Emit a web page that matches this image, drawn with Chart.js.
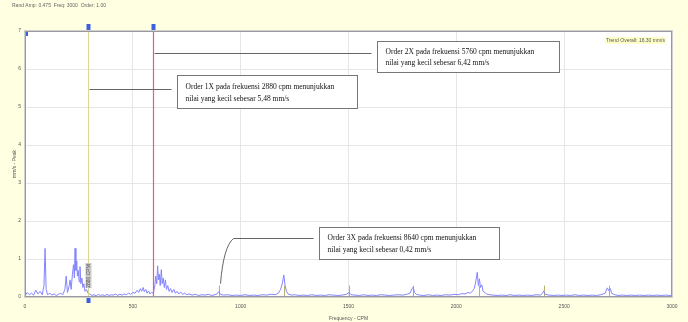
<!DOCTYPE html>
<html>
<head>
<meta charset="utf-8">
<script src="https://cdn.jsdelivr.net/npm/chart.js@4/dist/chart.umd.min.js"></script>
<style>
html,body{margin:0;padding:0;background:#ffffe0;}
#wrap{width:688px;height:322px;position:relative;}
</style>
</head>
<body>
<div id="wrap"><canvas id="c" width="688" height="322"></canvas></div>
<script>
// ---- data ----
const headerText = "Rand Amp: 0.475  Freq: 3000  Order: 1.00";
const overallText = "Trend Overall: 16.30 mm/s";
const xTickValues = [0, 500, 1000, 1500, 2000, 2500, 3000];
const yTickValues = [0, 1, 2, 3, 4, 5, 6, 7];
const xTitle = "Frequency - CPM";
const yTitle = "mm/s - Peak";

const spectrumFreq = [0,10,20,30,40,50,60,70,80,88,93,98,105,115,125,135,145,155,165,175,185,191,197,205,209,214,220,225,229,232,236,240,243,247,251,255,259,264,268,273,278,285,292,300,310,320,330,340,350,360,370,380,390,400,410,420,430,440,450,460,470,480,490,500,510,520,527,535,541,548,553,560,566,573,580,587,595,602,606,611,615,619,623,627,632,636,641,646,651,656,662,668,675,682,690,697,705,713,722,731,740,750,760,775,790,805,820,835,850,865,880,890,898,906,920,940,960,980,1000,1020,1040,1060,1080,1100,1120,1140,1160,1175,1185,1193,1200,1206,1212,1220,1235,1250,1270,1290,1310,1330,1350,1370,1390,1410,1430,1450,1470,1490,1502,1512,1530,1550,1570,1590,1610,1630,1650,1670,1690,1710,1730,1750,1770,1785,1795,1800,1806,1815,1830,1850,1870,1890,1910,1930,1950,1970,1990,2010,2025,2040,2055,2065,2075,2083,2090,2097,2102,2107,2112,2118,2124,2132,2140,2155,2170,2190,2210,2230,2250,2270,2290,2310,2330,2350,2370,2390,2400,2405,2412,2430,2450,2470,2490,2510,2530,2550,2570,2590,2610,2630,2650,2670,2690,2700,2707,2714,2720,2735,2750,2770,2790,2810,2830,2850,2870,2890,2910,2930,2950,2970,2990,3000];
const spectrumAmp = [0.02,0.12,0.06,0.1,0.05,0.18,0.08,0.15,0.06,0.3,1.28,0.2,0.06,0.1,0.05,0.08,0.04,0.07,0.1,0.06,0.2,0.55,0.12,0.3,0.45,0.2,0.6,0.85,0.5,1.28,0.7,0.95,0.55,0.7,0.4,0.8,0.35,0.5,0.25,0.35,0.15,0.2,0.1,0.08,0.04,0.06,0.03,0.07,0.04,0.06,0.03,0.07,0.04,0.06,0.05,0.08,0.04,0.07,0.05,0.08,0.06,0.1,0.07,0.12,0.1,0.18,0.12,0.22,0.15,0.25,0.14,0.2,0.1,0.16,0.08,0.12,0.1,0.3,0.55,0.35,0.82,0.45,0.6,0.3,0.72,0.35,0.5,0.25,0.45,0.2,0.3,0.15,0.22,0.12,0.2,0.1,0.15,0.08,0.13,0.07,0.1,0.06,0.08,0.05,0.07,0.04,0.06,0.05,0.07,0.04,0.06,0.08,0.14,0.07,0.05,0.06,0.04,0.05,0.04,0.06,0.04,0.05,0.04,0.06,0.05,0.07,0.06,0.1,0.2,0.35,0.58,0.3,0.15,0.08,0.05,0.06,0.04,0.05,0.04,0.06,0.04,0.05,0.04,0.06,0.05,0.04,0.05,0.07,0.12,0.06,0.05,0.04,0.06,0.04,0.05,0.04,0.06,0.05,0.04,0.05,0.06,0.05,0.07,0.1,0.22,0.26,0.12,0.07,0.05,0.04,0.06,0.04,0.05,0.04,0.06,0.05,0.07,0.06,0.09,0.08,0.12,0.1,0.16,0.22,0.4,0.65,0.3,0.48,0.25,0.32,0.15,0.12,0.08,0.06,0.05,0.04,0.05,0.04,0.06,0.04,0.05,0.04,0.05,0.04,0.06,0.05,0.1,0.16,0.07,0.05,0.04,0.05,0.04,0.05,0.04,0.06,0.04,0.05,0.04,0.05,0.04,0.06,0.1,0.24,0.17,0.22,0.1,0.06,0.04,0.05,0.04,0.05,0.04,0.05,0.04,0.05,0.04,0.05,0.04,0.05,0.04,0.03];

// order cursors (frequency on the axis)
const orderFreq = [293, 595, 898, 1200, 1502, 1800, 2105, 2405, 2707];
const cursorLabel = "2880 CPM";

// annotations: text + value the leader points at
const annoText = [
  ["Order 2X pada frekuensi 5760 cpm menunjukkan", "nilai yang kecil sebesar 6,42 mm/s"],
  ["Order 1X pada frekuensi 2880 cpm menunjukkan", "nilai yang kecil sebesar 5,48 mm/s"],
  ["Order 3X pada frekuensi 8640 cpm menunjukkan", "nilai yang kecil sebesar 0,42 mm/s"]
];
const annoLeaderValue = [6.42, 5.48, 1.55];

const points = spectrumFreq.map((f, i) => ({x: f, y: spectrumAmp[i]}));

// ---- drawing helpers (placement config) ----
const annoPlace = [
  {order: 1, boxX: 1632, boxTop: 6.74, boxW: 182, boxH: 31},
  {order: 0, boxX: 707,  boxTop: 5.84, boxW: 180, boxH: 33},
  {order: 2, boxX: 1363, boxTop: 1.83, boxW: 180, boxH: 32}
];

function marker(ctx, x, y) {
  ctx.fillStyle = '#3f5fe0';
  ctx.fillRect(x - 2, y - 3, 4, 6);
}

const decor = {
  id: 'decor',
  beforeDraw(chart) {
    const {ctx, chartArea: a} = chart;
    ctx.save();
    ctx.fillStyle = '#ffffe2';
    ctx.fillRect(0, 0, chart.width, chart.height);
    ctx.fillStyle = '#ffffff';
    ctx.fillRect(a.left, a.top, a.right - a.left, a.bottom - a.top);
    ctx.fillStyle = '#666';
    ctx.font = '5px "Liberation Sans"';
    ctx.textBaseline = 'middle';
    ctx.fillText(headerText, 12, 6);
    ctx.restore();
  },
  beforeDatasetsDraw(chart) {
    const {ctx, scales: {x, y}} = chart;
    ctx.save();
    ctx.strokeStyle = '#b8b070';
    ctx.lineWidth = 1;
    for (let i = 2; i < orderFreq.length; i++) {
      const px = Math.round(x.getPixelForValue(orderFreq[i])) + 0.5;
      ctx.beginPath();
      ctx.moveTo(px, y.getPixelForValue(0));
      ctx.lineTo(px, y.getPixelForValue(0.3));
      ctx.stroke();
    }
    ctx.restore();
  },
  afterDatasetsDraw(chart) {
    const {ctx, chartArea: a, scales: {x, y}} = chart;
    ctx.save();
    const x1 = Math.round(x.getPixelForValue(orderFreq[0])) + 0.5;
    const x2 = Math.round(x.getPixelForValue(orderFreq[1])) + 0.5;
    ctx.lineWidth = 1;
    ctx.strokeStyle = '#d8d890';
    ctx.beginPath(); ctx.moveTo(x1, a.top - 4); ctx.lineTo(x1, a.bottom + 2); ctx.stroke();
    ctx.strokeStyle = '#ee5a78';
    ctx.lineWidth = 1.2;
    ctx.beginPath(); ctx.moveTo(x2, a.top - 4); ctx.lineTo(x2, a.bottom); ctx.stroke();
    ctx.lineWidth = 1;
    // cursor label box
    ctx.fillStyle = '#c9c9c9';
    ctx.fillRect(x1 - 3, a.bottom - 34, 6, 25);
    ctx.save();
    ctx.translate(x1 + 0.5, a.bottom - 21);
    ctx.rotate(-Math.PI / 2);
    ctx.fillStyle = '#555';
    ctx.font = '5px "Liberation Sans"';
    ctx.textAlign = 'center';
    ctx.textBaseline = 'middle';
    ctx.fillText(cursorLabel, 0, 0);
    ctx.restore();
    marker(ctx, x1, a.top - 4);
    marker(ctx, x2, a.top - 4);
    marker(ctx, x1, a.bottom + 3);
    marker(ctx, a.left + 1, a.top + 2);

    ctx.font = '7.5px "Liberation Serif"';
    annoPlace.forEach((p, i) => {
      const bx = Math.round(x.getPixelForValue(p.boxX)) + 0.5;
      const by = Math.round(y.getPixelForValue(p.boxTop)) + 0.5;
      const ly = Math.round(y.getPixelForValue(annoLeaderValue[i])) + 0.5;
      const lx = Math.round(x.getPixelForValue(orderFreq[p.order])) + 0.5;
      ctx.strokeStyle = '#666';
      ctx.lineWidth = 1;
      ctx.beginPath();
      if (p.order === 2) {
        const tipY = y.getPixelForValue(0.35);
        ctx.moveTo(bx - 6, ly);
        ctx.lineTo(lx + 14, ly);
        ctx.quadraticCurveTo(lx + 4, ly + 8, lx + 1, tipY);
      } else {
        ctx.moveTo(lx + 1, ly);
        ctx.lineTo(bx - 6, ly);
      }
      ctx.stroke();
      ctx.fillStyle = '#fff';
      ctx.fillRect(bx, by, p.boxW, p.boxH);
      ctx.strokeStyle = '#777';
      ctx.strokeRect(bx, by, p.boxW, p.boxH);
      ctx.fillStyle = '#111';
      ctx.textBaseline = 'middle';
      ctx.fillText(annoText[i][0], bx + 8, by + p.boxH * 0.34);
      ctx.fillText(annoText[i][1], bx + 8, by + p.boxH * 0.70);
    });

    ctx.font = '5px "Liberation Sans"';
    const tw = ctx.measureText(overallText).width;
    ctx.fillStyle = '#ffffc8';
    ctx.fillRect(a.right - 7 - tw - 1, a.top + 6, tw + 2, 7);
    ctx.fillStyle = '#555';
    ctx.textAlign = 'right';
    ctx.fillText(overallText, a.right - 7, a.top + 9.5);
    ctx.restore();
  },
  afterDraw(chart) {
    const {ctx, chartArea: a} = chart;
    ctx.save();
    ctx.strokeStyle = '#9a9a9a';
    ctx.lineWidth = 1;
    ctx.strokeRect(a.left + 0.5, a.top + 0.5, a.right - a.left - 1, a.bottom - a.top - 1);
    ctx.strokeStyle = '#d0d0d0';
    ctx.strokeRect(a.left - 0.5, a.top - 0.5, a.right - a.left + 1, a.bottom - a.top + 1);
    ctx.restore();
  }
};

new Chart(document.getElementById('c'), {
  type: 'line',
  data: {
    datasets: [{
      data: points,
      borderColor: '#8484ff',
      borderWidth: 1,
      pointRadius: 0,
      tension: 0,
      fill: false
    }]
  },
  options: {
    responsive: false,
    animation: false,
    events: [],
    layout: {padding: {top: 31, right: 16, bottom: 0, left: 0}},
    plugins: {legend: {display: false}, tooltip: {enabled: false}},
    scales: {
      x: {
        type: 'linear', min: 0, max: 3000,
        afterBuildTicks: s => { s.ticks = xTickValues.map(v => ({value: v})); },
        afterFit: s => { s.height = 25; },
        grid: {color: '#e6e6e6', drawTicks: false},
        border: {display: false},
        ticks: {padding: 7, font: {size: 5, family: 'Liberation Sans'}, color: '#555', maxRotation: 0,
                callback: v => String(v)},
        title: {display: true, text: xTitle, font: {size: 5, family: 'Liberation Sans'}, color: '#555', padding: {top: 1, bottom: 0}}
      },
      y: {
        min: 0, max: 7,
        afterBuildTicks: s => { s.ticks = yTickValues.map(v => ({value: v})); },
        afterFit: s => { s.width = 25; },
        grid: {color: '#e6e6e6', drawTicks: false},
        border: {display: false},
        ticks: {padding: 4, font: {size: 5, family: 'Liberation Sans'}, color: '#555', callback: v => String(v)},
        title: {display: true, text: yTitle, font: {size: 5, family: 'Liberation Sans'}, color: '#555', padding: {top: 12, bottom: 0}}
      }
    }
  },
  plugins: [decor]
});
</script>
</body>
</html>
